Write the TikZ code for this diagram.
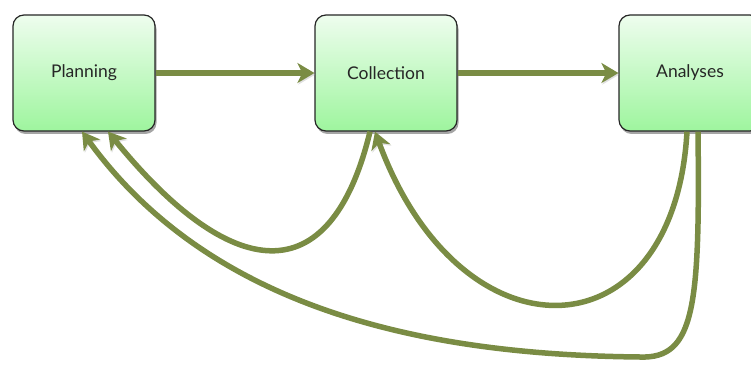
\documentclass[tikz,border=0pt]{standalone}
\usepackage{fontspec}
\setmainfont{Lato}
\usepackage{tikz}
\usetikzlibrary{arrows.meta,shadows}

\definecolor{boxtop}{RGB}{238,253,238}
\definecolor{boxbottom}{RGB}{158,245,158}
\definecolor{flowgreen}{RGB}{122,140,68}

\tikzset{
  stage/.style={draw=black!85, line width=1.2pt, rounded corners=11pt,
    top color=boxtop, bottom color=boxbottom,
    minimum width=142pt, minimum height=116pt,
    font=\fontsize{17.5}{21}\selectfont, text=black!85,
    drop shadow={shadow xshift=1.5pt, shadow yshift=-3pt, fill=black!70, opacity=.5}},
  flow/.style={draw=flowgreen, line width=5.5pt,
    -{Stealth[length=17pt,width=20pt,inset=5pt]},
    preaction={draw=black!35, opacity=.35,
      transform canvas={shift={(1pt,-1.5pt)}}}}
}

\begin{document}
\begin{tikzpicture}[x=1pt,y=-1pt]
    \useasboundingbox (0,0) rectangle (751,366);
    \clip (0,0) rectangle (751,366);

%draw boxes
    \node[stage] (plan) at (84,73) {Planning};
    \node[stage] (coll) at (386,73) {Collection};
    \node[stage] (anal) at (690,73) {Analyses};

%draw straight arrows
    \draw[flow] (plan) -- (coll);
    \draw[flow] (coll) -- (anal);

%draw feedback curves
    \draw[flow] ([xshift=-16pt]coll.south) .. controls +(-40,165) and +(122,150) .. ([xshift=24pt]plan.south);
    \draw[flow] ([xshift=-3pt]anal.south) .. controls +(-13,228) and +(85,232) .. ([xshift=-11pt]coll.south);
    \draw[flow] ([xshift=8pt]anal.south) .. controls +(2,175) and +(55,2) .. (640,357)
                .. controls +(-190,-2) and +(137,189) .. ([xshift=-2pt]plan.south);

\end{tikzpicture}
\end{document}
